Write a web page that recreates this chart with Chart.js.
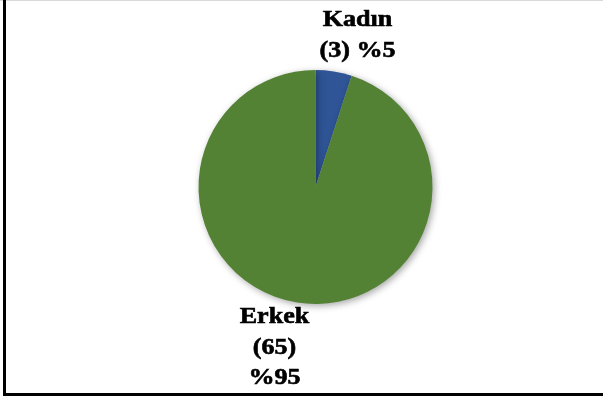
<!DOCTYPE html>
<html>
<head>
<meta charset="utf-8">
<script src="https://cdn.jsdelivr.net/npm/chart.js@4/dist/chart.umd.min.js"></script>
<style>
    html, body { margin: 0; padding: 0; background: #ffffff; }
    #wrap { position: relative; width: 603px; height: 398px; overflow: hidden; }
    #chart { position: absolute; left: 0; top: 0; }
    .line { position: absolute; background: #000000; }
</style>
</head>
<body>
<div id="wrap">
    <canvas id="chart" width="603" height="398"></canvas>
    <div class="line" style="left:0;top:0;width:603px;height:1px;background:#d9d9d9;"></div>
    <div class="line" style="left:3px;top:0;width:3px;height:396px;"></div>
    <div class="line" style="left:3px;top:393px;width:600px;height:3px;"></div>
</div>
<script>
// Chart data
const categories = ['Kadın', 'Erkek'];
const counts = [3, 65];
const percents = [5, 95];

const sliceColors = ['#2f5597', '#548235'];

// Label lines for each slice (drawn beside the pie)
const labelLines = [
    [categories[0], '(' + counts[0] + ') %' + percents[0]],
    [categories[1], '(' + counts[1] + ')', '%' + percents[1]]
];

// Label block position relative to the pie centre (x centre, first baseline)
const labelOffsets = [
    { dx: 42, dy: -161 },
    { dx: -41, dy: 136 }
];

const shadowPlugin = {
    id: 'pieShadow',
    beforeDatasetDraw(chart) {
        const ctx = chart.ctx;
        ctx.save();
        ctx.shadowColor = 'rgba(0, 0, 0, 0.35)';
        ctx.shadowBlur = 7;
        ctx.shadowOffsetX = 2;
        ctx.shadowOffsetY = 2;
    },
    afterDatasetDraw(chart) {
        chart.ctx.restore();
    }
};

const labelPlugin = {
    id: 'sliceLabels',
    afterDatasetsDraw(chart) {
        const ctx = chart.ctx;
        const arc = chart.getDatasetMeta(0).data[0];
        const lineHeight = 30.5;
        const stretch = 1.16;
        ctx.save();
        ctx.fillStyle = '#000000';
        ctx.strokeStyle = '#000000';
        ctx.lineWidth = 0.6;
        ctx.font = 'bold 22.5px "Liberation Serif", "Times New Roman", serif';
        ctx.textAlign = 'center';
        ctx.textBaseline = 'alphabetic';
        labelLines.forEach((lines, i) => {
            const cx = arc.x + labelOffsets[i].dx;
            const top = arc.y + labelOffsets[i].dy;
            lines.forEach((text, j) => {
                ctx.save();
                ctx.translate(cx, top + j * lineHeight);
                ctx.scale(stretch, 1);
                ctx.fillText(text, 0, 0);
                ctx.strokeText(text, 0, 0);
                ctx.restore();
            });
        });
        ctx.restore();
    }
};

new Chart(document.getElementById('chart'), {
    type: 'pie',
    data: {
        labels: categories,
        datasets: [{
            data: percents,
            backgroundColor: sliceColors,
            borderWidth: 0
        }]
    },
    options: {
        responsive: false,
        animation: false,
        layout: {
            padding: { top: 70, bottom: 94, left: 28, right: 0 }
        },
        plugins: {
            legend: { display: false },
            tooltip: { enabled: false }
        }
    },
    plugins: [shadowPlugin, labelPlugin]
});
</script>
</body>
</html>
